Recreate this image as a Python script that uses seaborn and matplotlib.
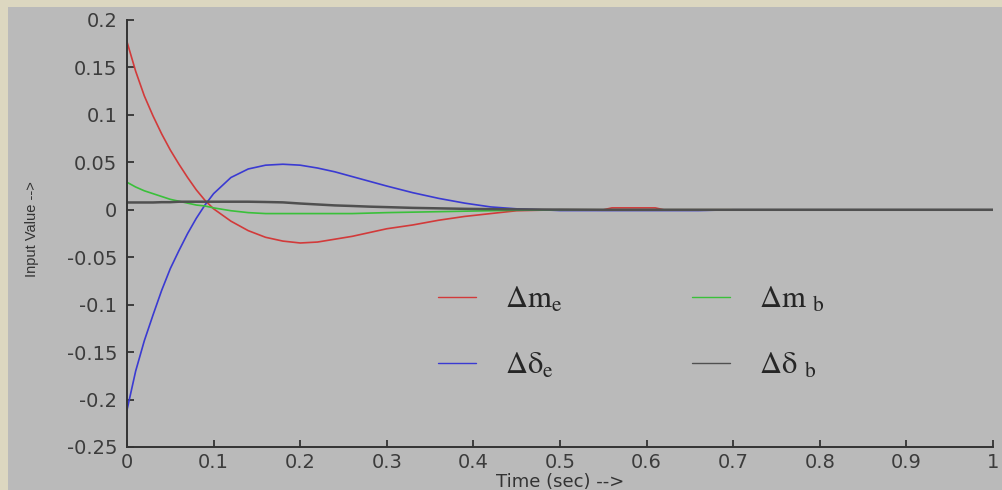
import numpy as np
import pandas as pd
import seaborn as sns
import matplotlib.pyplot as plt
from matplotlib.patches import Rectangle
from matplotlib.ticker import FuncFormatter

#==============================================================================
# values
time = [0, 0.01, 0.02, 0.03, 0.04, 0.05, 0.06, 0.07, 0.08, 0.09, 0.10,
        0.12, 0.14, 0.16, 0.18, 0.20, 0.22, 0.24, 0.26, 0.28, 0.30,
        0.33, 0.36, 0.39, 0.42, 0.45, 0.50, 0.55, 0.56, 0.61, 0.62,
        0.66, 0.70, 0.80, 0.86, 0.87, 0.90, 1.00]

dm_e = [0.177, 0.146, 0.120, 0.099, 0.080, 0.063, 0.048, 0.034, 0.021, 0.010, 0.001,
        -0.012, -0.022, -0.029, -0.033, -0.035, -0.034, -0.031, -0.028, -0.024, -0.020,
        -0.016, -0.011, -0.007, -0.004, -0.001, 0, 0, 0.002, 0.002, 0,
        0, 0, 0, 0, 0, 0, 0]

dd_e = [-0.211, -0.170, -0.138, -0.111, -0.085, -0.062, -0.043, -0.025, -0.009, 0.005, 0.017,
        0.034, 0.043, 0.047, 0.048, 0.047, 0.044, 0.040, 0.035, 0.030, 0.025,
        0.018, 0.012, 0.007, 0.003, 0.001, -0.0008, -0.0008, -0.0008, -0.0008, -0.0008,
        -0.0008, 0, 0, 0, 0, 0, 0]

dm_b = [0.029, 0.024, 0.020, 0.017, 0.014, 0.011, 0.009, 0.007, 0.005, 0.004, 0.002,
        -0.001, -0.003, -0.004, -0.004, -0.004, -0.004, -0.004, -0.004, -0.0035, -0.003,
        -0.0025, -0.002, -0.0015, -0.001, -0.0005, 0, 0, 0, 0, 0,
        0, 0, 0, 0, 0, 0, 0]

dd_b = [0.0077, 0.0077, 0.0077, 0.0077, 0.0080, 0.0080, 0.0085, 0.0085, 0.0085, 0.0085, 0.0085,
        0.0085, 0.0085, 0.0082, 0.0078, 0.0066, 0.0056, 0.0046, 0.0040, 0.0033, 0.0028,
        0.0020, 0.0015, 0.0010, 0.0007, 0.0004, 0.0002, 0, 0, 0, 0,
        0, 0, 0, 0, 0, 0, 0]

labels = [r'$\Delta\mathrm{m}_\mathrm{e}$', r'$\Delta\mathrm{δ}_\mathrm{e}$',
          r'$\Delta\mathrm{m}\ {}_\mathrm{b}$', r'$\Delta\mathrm{δ}\ {}_\mathrm{b}$']
colors = ['#d23a3a', '#3a3ad2', '#3ac03a', '#505050']
widths = [1.2, 1.2, 1.2, 1.8]

x_ticks = [0, 0.1, 0.2, 0.3, 0.4, 0.5, 0.6, 0.7, 0.8, 0.9, 1.0]
y_ticks = [-0.25, -0.2, -0.15, -0.1, -0.05, 0, 0.05, 0.1, 0.15, 0.2]

#==============================================================================
sns.set_style("ticks")
plt.rcParams['font.family'] = ['DejaVu Sans']
plt.rcParams['mathtext.fontset'] = 'stix'
plt.rcParams['axes.unicode_minus'] = False

series = [dm_e, dd_e, dm_b, dd_b]
frames = []
for lab, vals in zip(labels, series):
    frames.append(pd.DataFrame({'time': time, 'value': vals, 'signal': lab}))
df = pd.concat(frames, ignore_index=True)

gray_bg = '#bababa'
fig = plt.figure(figsize=(10.02, 4.9), dpi=100, facecolor=gray_bg)
# beige frame strips (top and left) seen in the screenshot
fig.add_artist(Rectangle((0, 1 - 7 / 490), 1, 7 / 490, transform=fig.transFigure,
                         facecolor='#dcd7c0', edgecolor='none', zorder=-1))
fig.add_artist(Rectangle((0, 0), 8 / 1002, 1, transform=fig.transFigure,
                         facecolor='#dcd7c0', edgecolor='none', zorder=-1))

ax = fig.add_axes([127 / 1002, 43 / 490, 866 / 1002, 427 / 490])
ax.set_facecolor(gray_bg)

sns.lineplot(data=df, x='time', y='value', hue='signal', hue_order=labels,
             palette=dict(zip(labels, colors)), ax=ax, legend=False, estimator=None)
for line, lw in zip(ax.get_lines(), widths):
    line.set_linewidth(lw)

ax.set_xlim(0, 1)
ax.set_ylim(-0.25, 0.2)
ax.set_xticks(x_ticks)
ax.set_yticks(y_ticks)
fmt = FuncFormatter(lambda v, p: '%g' % round(v, 3))
ax.xaxis.set_major_formatter(fmt)
ax.yaxis.set_major_formatter(fmt)

for side in ['top', 'right']:
    ax.spines[side].set_visible(False)
for side in ['left', 'bottom']:
    ax.spines[side].set_color('#333333')
    ax.spines[side].set_linewidth(1.4)
ax.tick_params(direction='in', length=5, width=1.3, color='#333333',
               labelcolor='#3c3c3c', labelsize=14)
ax.tick_params(axis='y', pad=7)
ax.tick_params(axis='x', pad=4)

ax.set_xlabel('Time (sec) -->', fontsize=13, color='#333333', labelpad=1)
ax.set_ylabel('Input Value -->', fontsize=10.5, color='#333333',
              family=['Liberation Sans', 'DejaVu Sans'])
ax.yaxis.set_label_coords(-0.102, 0.51)

handles = [plt.Line2D([], [], color=c, lw=1.0) for c in colors]
ax.legend(handles, labels, ncol=2, frameon=False, fontsize=22,
          loc='upper left', bbox_to_anchor=(0.327, 0.444),
          handlelength=1.25, handletextpad=0.95, columnspacing=4.25,
          labelspacing=1.2)

fig.savefig('out.png', dpi=100, facecolor=fig.get_facecolor())
